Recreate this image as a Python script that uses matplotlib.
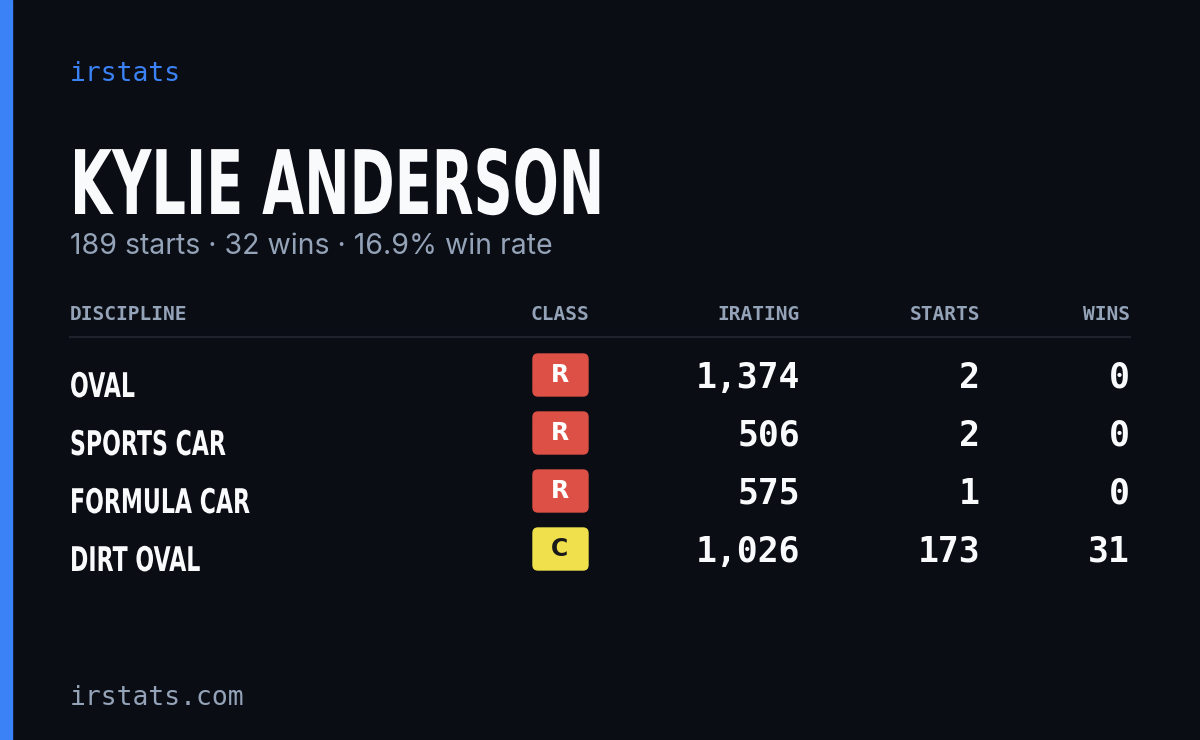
import matplotlib
matplotlib.use("Agg")
import matplotlib.pyplot as plt
from matplotlib.patches import FancyBboxPatch, Rectangle, PathPatch
from matplotlib.textpath import TextPath
from matplotlib.font_manager import FontProperties
from matplotlib.transforms import Affine2D

BG = "#0a0d14"
BLUE = "#3b82f6"
GRAY = "#94a3b8"
WHITE = "#f8fafc"
LINE = "#1e232d"
CLASS_COLORS = {"R": "#dc5046", "C": "#efe04c"}
CLASS_TEXT = {"R": "#ffffff", "C": "#1a1a1a"}

name = "KYLIE ANDERSON"
summary = "189 starts · 32 wins · 16.9% win rate"
disciplines = ["OVAL", "SPORTS CAR", "FORMULA CAR", "DIRT OVAL"]
classes = ["R", "R", "R", "C"]
iratings = [1374, 506, 575, 1026]
starts = [2, 2, 1, 173]
wins = [0, 0, 0, 31]

W, H = 1200, 740
fig = plt.figure(figsize=(12, 7.4), dpi=100)
fig.patch.set_facecolor(BG)
ax = fig.add_axes([0, 0, 1, 1])
ax.set_xlim(0, W)
ax.set_ylim(H, 0)
ax.axis("off")

MONO = "DejaVu Sans Mono"
BOLD = FontProperties(family="DejaVu Sans", weight="bold")


def condensed(x, y, s, size, sx, color):
    # squeezed bold text, drawn as a path (no narrow font installed)
    tp = TextPath((0, 0), s, size=size, prop=BOLD)
    tr = Affine2D().scale(sx, -1).translate(x, y)
    ax.add_patch(PathPatch(tr.transform_path(tp), color=color, lw=0))


ax.add_patch(Rectangle((0, 0), 12, H, color=BLUE))
ax.text(70, 74, "irstats", color=BLUE, fontsize=19, family=MONO, va="center")
condensed(70, 214, name, 89, 0.61, WHITE)
ax.text(70, 246, summary, color=GRAY, fontsize=20.5, family="Inter", va="center")

heads = [("DISCIPLINE", 70, "left"), ("CLASS", 560, "center"),
         ("IRATING", 800, "right"), ("STARTS", 980, "right"), ("WINS", 1130, "right")]
for t, x, ha in heads:
    ax.text(x, 314, t, color=GRAY, fontsize=14, family=MONO, weight="bold", ha=ha, va="center")
ax.plot([70, 1130], [337, 337], color=LINE, lw=1.5)

for i, d in enumerate(disciplines):
    y = 378 + i * 58
    condensed(70, y + 19, d, 34, 0.65, WHITE)
    c = classes[i]
    ax.add_patch(FancyBboxPatch((533, y - 24), 55, 42, boxstyle="round,pad=0,rounding_size=5",
                                color=CLASS_COLORS[c]))
    ax.text(560, y - 3, c, color=CLASS_TEXT[c], fontsize=17, family="DejaVu Sans",
            weight="bold", ha="center", va="center")
    for val, x in [(f"{iratings[i]:,}", 800), (str(starts[i]), 980), (str(wins[i]), 1130)]:
        ax.text(x, y, val, color=WHITE, fontsize=25, family=MONO, weight="bold",
                ha="right", va="center")

ax.text(70, 698, "irstats.com", color=GRAY, fontsize=19, family=MONO, va="center")

fig.savefig("out.png", dpi=100, facecolor=BG)
